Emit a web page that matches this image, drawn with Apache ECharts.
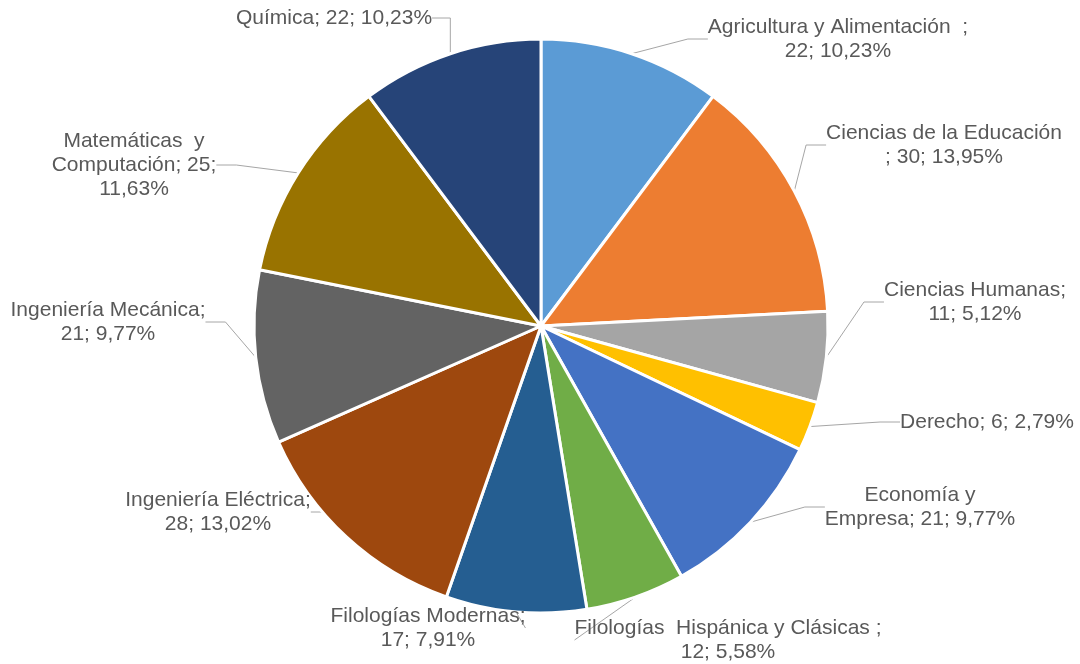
<!DOCTYPE html>
<html>
<head>
<meta charset="utf-8">
<script src="https://cdn.jsdelivr.net/npm/echarts@6/dist/echarts.min.js"></script>
<style>
  html, body { margin: 0; padding: 0; background: #fff; }
  #chart { width: 1080px; height: 664px; }
</style>
</head>
<body>
<div id="chart"></div>
<script>
// categories as shown in the labels (line breaks follow the picture)
const categories = [
  'Agricultura y Alimentación',
  'Ciencias de la Educación',
  'Ciencias Humanas',
  'Derecho',
  'Economía y Empresa',
  'Filologías Hispánica y Clásicas',
  'Filologías Modernas',
  'Ingeniería Eléctrica',
  'Ingeniería Mecánica',
  'Matemáticas y Computación',
  'Química'
]
const values = [22, 30, 11, 6, 21, 12, 17, 28, 21, 25, 22]
const percents = ['10,23%', '13,95%', '5,12%', '2,79%', '9,77%', '5,58%', '7,91%', '13,02%', '9,77%', '11,63%', '10,23%']
const labelTexts = [
  'Agricultura y Alimentación  ;\n22; 10,23%',
  'Ciencias de la Educación\n; 30; 13,95%',
  'Ciencias Humanas;\n11; 5,12%',
  'Derecho; 6; 2,79%',
  'Economía y\nEmpresa; 21; 9,77%',
  'Filologías  Hispánica y Clásicas ;\n12; 5,58%',
  'Filologías Modernas;\n17; 7,91%',
  'Ingeniería Eléctrica;\n28; 13,02%',
  'Ingeniería Mecánica;\n21; 9,77%',
  'Matemáticas  y\nComputación; 25;\n11,63%',
  'Química; 22; 10,23%'
]
const colors = ['#5B9BD5', '#ED7D31', '#A5A5A5', '#FFC000', '#4472C4', '#70AD47',
  '#255E91', '#9E480E', '#636363', '#997300', '#264478']

// label block centres
const labelPos = [
  [838, 39], [944, 145], [975, 302], [987, 422], [920, 507],
  [728, 640], [428, 628], [218, 512], [108, 322], [134, 165], [334, 18]
]

const chart = echarts.init(document.getElementById('chart'))
chart.setOption({
  backgroundColor: '#fff',
  animation: false,
  series: [{
    type: 'pie',
    center: [541, 326],
    radius: 287,
    startAngle: 90,
    clockwise: true,
    color: colors,
    itemStyle: {
      borderColor: '#fff',
      borderWidth: 3
    },
    label: {
      show: true,
      position: 'outside',
      overflow: 'none',
      color: '#595959',
      fontFamily: 'Liberation Sans, Arial, sans-serif',
      fontSize: 21,
      lineHeight: 24,
      align: 'center',
      formatter: function(p) {
        return labelTexts[p.dataIndex]
      }
    },
    labelLine: {
      show: true,
      length: 20,
      length2: 20,
      lineStyle: {
        color: '#a6a6a6',
        width: 1
      }
    },
    labelLayout: function(p) {
      const pos = labelPos[p.dataIndex]
      return {
        x: pos[0],
        y: pos[1],
        align: 'center',
        verticalAlign: 'middle'
      }
    },
    data: categories.map(function(c, i) {
      return { name: c, value: values[i] }
    })
  }]
})
</script>
</body>
</html>
